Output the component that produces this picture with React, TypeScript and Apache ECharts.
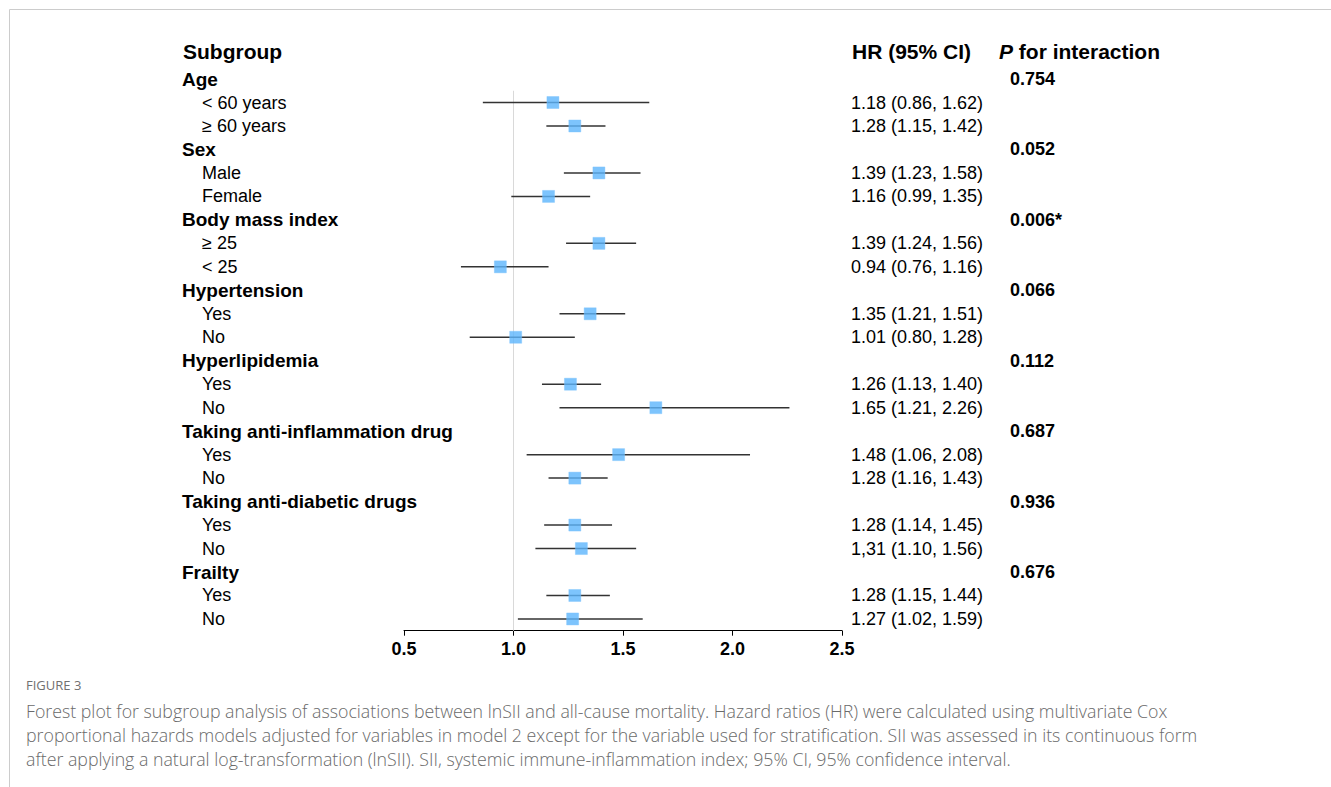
import React, { useEffect, useRef } from "react";
import * as echarts from "echarts";

const labels = [
  "Age", "< 60 years", "≥ 60 years",
  "Sex", "Male", "Female",
  "Body mass index", "≥ 25", "< 25",
  "Hypertension", "Yes", "No",
  "Hyperlipidemia", "Yes", "No",
  "Taking anti-inflammation drug", "Yes", "No",
  "Taking anti-diabetic drugs", "Yes", "No",
  "Frailty", "Yes", "No",
];
const isGroup = labels.map((_, i) => i % 3 === 0);

const hr = [null, 1.18, 1.28, null, 1.39, 1.16, null, 1.39, 0.94, null, 1.35, 1.01, null, 1.26, 1.65, null, 1.48, 1.28, null, 1.28, 1.31, null, 1.28, 1.27];
const lo = [null, 0.86, 1.15, null, 1.23, 0.99, null, 1.24, 0.76, null, 1.21, 0.80, null, 1.13, 1.21, null, 1.06, 1.16, null, 1.14, 1.10, null, 1.15, 1.02];
const hi = [null, 1.62, 1.42, null, 1.58, 1.35, null, 1.56, 1.16, null, 1.51, 1.28, null, 1.40, 2.26, null, 2.08, 1.43, null, 1.45, 1.56, null, 1.44, 1.59];

const hrLabels = [
  "", "1.18 (0.86, 1.62)", "1.28 (1.15, 1.42)",
  "", "1.39 (1.23, 1.58)", "1.16 (0.99, 1.35)",
  "", "1.39 (1.24, 1.56)", "0.94 (0.76, 1.16)",
  "", "1.35 (1.21, 1.51)", "1.01 (0.80, 1.28)",
  "", "1.26 (1.13, 1.40)", "1.65 (1.21, 2.26)",
  "", "1.48 (1.06, 2.08)", "1.28 (1.16, 1.43)",
  "", "1.28 (1.14, 1.45)", "1,31 (1.10, 1.56)",
  "", "1.28 (1.15, 1.44)", "1.27 (1.02, 1.59)",
];
const pLabels = [
  "0.754", "", "", "0.052", "", "", "0.006*", "", "", "0.066", "", "",
  "0.112", "", "", "0.687", "", "", "0.936", "", "", "0.676", "", "",
];

const xTicks = { min: 0.5, max: 2.5, interval: 0.5 };
const refValue = 1;

const captionTitle = "FIGURE 3";
const captionLines = [
  "Forest plot for subgroup analysis of associations between lnSII and all-cause mortality. Hazard ratios (HR) were calculated using multivariate Cox",
  "proportional hazards models adjusted for variables in model 2 except for the variable used for stratification. SII was assessed in its continuous form",
  "after applying a natural log-transformation (lnSII). SII, systemic immune-inflammation index; 95% CI, 95% confidence interval.",
];

const FONT = "'Liberation Sans', Arial, sans-serif";
const CAP_FONT = "'Open Sans', 'Noto Sans', sans-serif";

export default function App() {
  const ref = useRef<HTMLDivElement>(null);
  useEffect(() => {
    if (!ref.current) return;
    const chart = echarts.init(ref.current, null, { renderer: "svg" });
    const n = labels.length;
    const ciData: any[] = [];
    const ptData: any[] = [];
    for (let i = 0; i < n; i++) {
      if (hr[i] != null) {
        ciData.push([lo[i], hi[i], i]);
        ptData.push([hr[i], i]);
      }
    }
    const catAxisBase = {
      type: "category",
      data: labels,
      inverse: true,
      boundaryGap: true,
      axisLine: { show: false },
      axisTick: { show: false },
      splitLine: { show: false },
    };
    chart.setOption({
      animation: false,
      backgroundColor: "#ffffff",
      grid: { left: 404, right: 489, top: 67.3, bottom: 156.3 },
      xAxis: {
        type: "value",
        position: "bottom",
        min: xTicks.min,
        max: xTicks.max,
        interval: xTicks.interval,
        axisLine: { show: true, onZero: false, lineStyle: { color: "#000", width: 1 } },
        axisTick: { show: true, length: 5, lineStyle: { color: "#000" } },
        splitLine: { show: false },
        axisLabel: {
          formatter: (v: number) => v.toFixed(1),
          fontFamily: FONT,
          fontWeight: "bold",
          fontSize: 18,
          color: "#000",
          margin: 9,
        },
      },
      yAxis: [
        {
          ...catAxisBase,
          position: "left",
          axisLabel: {
            align: "left",
            margin: 222,
            interval: 0,
            formatter: (v: string, i: number) => (isGroup[i] ? `{g|${v}}` : `{s|${v}}`),
            rich: {
              g: { fontFamily: FONT, fontWeight: "bold", fontSize: 19, color: "#000" },
              s: { fontFamily: FONT, fontSize: 18, color: "#000", padding: [0, 0, 0, 20] },
            },
          },
        },
        {
          ...catAxisBase,
          position: "right",
          data: hrLabels,
          axisLabel: {
            margin: 9,
            interval: 0,
            fontFamily: FONT,
            fontSize: 18,
            color: "#000",
          },
        },
        {
          ...catAxisBase,
          position: "right",
          offset: 160,
          data: pLabels,
          axisLabel: {
            margin: 8,
            interval: 0,
            fontFamily: FONT,
            fontSize: 18,
            fontWeight: "bold",
            color: "#000",
          },
        },
        {
          type: "value",
          show: false,
          inverse: true,
          min: -0.5,
          max: n - 0.5,
          splitLine: { show: false },
        },
      ],
      series: [
        {
          type: "line",
          yAxisIndex: 3,
          data: [[refValue, 0.5], [refValue, n - 0.5]],
          symbol: "none",
          lineStyle: { color: "#d9d9d9", width: 1 },
          z: 1,
          silent: true,
        },
        {
          type: "custom",
          yAxisIndex: 3,
          data: ciData,
          encode: { x: [0, 1], y: 2 },
          z: 2,
          renderItem: (params: any, api: any) => {
            const a = api.coord([api.value(0), api.value(2)]);
            const b = api.coord([api.value(1), api.value(2)]);
            return {
              type: "line",
              shape: { x1: a[0], y1: a[1], x2: b[0], y2: b[1] },
              style: { stroke: "#333333", lineWidth: 1.5 },
            };
          },
        },
        {
          type: "scatter",
          yAxisIndex: 3,
          data: ptData,
          symbol: "rect",
          symbolSize: 12,
          itemStyle: { color: "#5cb5fd", borderColor: "#7cc4fd", borderWidth: 0.5 },
          z: 3,
        },
      ],
      graphic: [
        { type: "line", shape: { x1: 9.5, y1: 9.5, x2: 1331, y2: 9.5 }, style: { stroke: "#cccccc", lineWidth: 1 } },
        { type: "line", shape: { x1: 9.5, y1: 9.5, x2: 9.5, y2: 787 }, style: { stroke: "#cccccc", lineWidth: 1 } },
        {
          type: "text", x: 183, y: 51,
          style: { text: "Subgroup", font: `bold 21px ${FONT}`, fill: "#000", verticalAlign: "middle" },
        },
        {
          type: "text", x: 852, y: 51,
          style: { text: "HR (95% CI)", font: `bold 21px ${FONT}`, fill: "#000", verticalAlign: "middle" },
        },
        {
          type: "text", x: 999, y: 51,
          style: {
            text: "{i|P}{b| for interaction}",
            verticalAlign: "middle",
            rich: {
              i: { fontFamily: FONT, fontSize: 21, fontWeight: "bold", fontStyle: "italic", fill: "#000" },
              b: { fontFamily: FONT, fontSize: 21, fontWeight: "bold", fill: "#000" },
            },
          },
        },
        {
          type: "text", x: 26, y: 685,
          style: { text: captionTitle, font: `13px ${CAP_FONT}`, fill: "#707070", verticalAlign: "middle" },
        },
        ...captionLines.map((t, k) => ({
          type: "text", x: 26, y: 711 + k * 24,
          style: { text: t, font: `300 17.75px ${CAP_FONT}`, fill: "#6a6a6a", verticalAlign: "middle" },
        })),
      ],
    });
    return () => chart.dispose();
  }, []);
  return (
    <div
      ref={ref}
      style={{ position: "absolute", left: 0, top: 0, width: 1331, height: 787 }}
    />
  );
}
